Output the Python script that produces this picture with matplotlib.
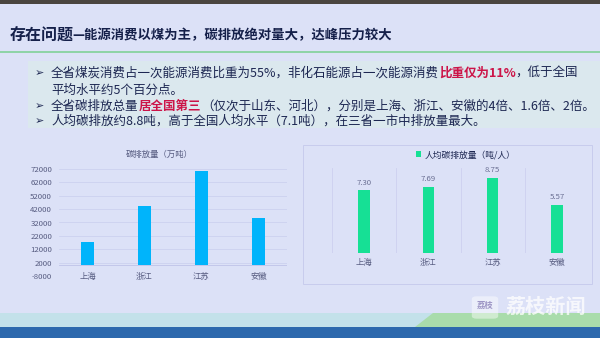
import matplotlib
matplotlib.use('Agg')
import matplotlib.pyplot as plt
from matplotlib.patches import Rectangle, Polygon, FancyBboxPatch

plt.rcParams['font.family'] = ['Noto Sans CJK SC', 'DejaVu Sans']

# data
regions = ['上海', '浙江', '江苏', '安徽']
total_emission = [17500, 44500, 70500, 35500]      # 万吨
per_capita = [7.30, 7.69, 8.75, 5.57]              # 吨/人
total_ticks = list(range(-8000, 72001, 10000))

title_main = '存在问题'
title_rest = '—能源消费以煤为主，碳排放绝对量大，达峰压力较大'
bullets = [
    [('全省煤炭消费占一次能源消费比重为55%，非化石能源占一次能源消费', None), ('比重仅为11%', 'hl'), ('，低于全国', None)],
    [('平均水平约5个百分点。', None)],
    [('全省碳排放总量', None), ('居全国第三', 'hl'), ('（仅次于山东、河北），分别是上海、浙江、安徽的4倍、1.6倍、2倍。', None)],
    [('人均碳排放约8.8吨，高于全国人均水平（7.1吨），在三省一市中排放量最大。', None)],
]

W, H = 600, 338
BG = '#dce1f7'
NAVY = '#1d2752'
GREY = '#565b80'
BLUE = '#00b4fb'
GREEN = '#16e095'
RED = '#cc1448'

fig = plt.figure(figsize=(6, 3.38), dpi=100, facecolor=BG)


def fx(px):
    return px / W


def fy(py):
    return 1 - py / H


def band(x0, y0, x1, y1, color, **kw):
    fig.patches.append(Rectangle((fx(x0), fy(y1)), fx(x1 - x0), (y1 - y0) / H,
                                 transform=fig.transFigure, facecolor=color,
                                 edgecolor='none', **kw))


# slide decoration
band(0, 0, W, 4, '#4a4540')
band(28, 61, W, 128, '#dbe8ee')
band(0, 51, W, 53, '#8fd3a8')
band(0, 313, W, 327, '#c3e1ea')
band(0, 327, W, H, '#2d69ad')
fig.patches.append(Polygon([(fx(415), fy(327)), (fx(433), fy(313)), (1, fy(313)), (1, fy(327))],
                           closed=True, transform=fig.transFigure,
                           facecolor='#a9dcab', edgecolor='none'))

renderer = fig.canvas.get_renderer()


def run_text(x, y, parts, size, color):
    # lay text runs side by side, each in its own colour/weight
    for s, style in parts:
        t = fig.text(fx(x), fy(y), s, fontsize=size, va='center',
                     color=RED if style == 'hl' else color,
                     fontweight='bold' if style in ('hl', 'b') else 'normal')
        bb = t.get_window_extent(renderer)
        x = bb.x1


run_text(10, 35, [(title_main, 'b')], 11.5, '#15204a')
run_text(72, 35.5, [(title_rest, 'b')], 9.6, '#15204a')

line_y = [73.5, 90.5, 106.5, 121]
for i, parts in enumerate(bullets):
    if i != 1:
        fig.text(fx(35), fy(line_y[i]), '➢', fontsize=8, va='center', color=NAVY,
                 family=['DejaVu Sans'])
    run_text(51, line_y[i], parts, 9.0, NAVY)

# left chart: total emissions
ax1 = fig.add_axes([fx(59), fy(276), fx(228), (276 - 169) / H])
ax1.set_facecolor('none')
x = range(len(regions))
ax1.bar(x, total_emission, width=0.22, color=BLUE)
ax1.set_xlim(-0.5, 3.5)
ax1.set_ylim(-8000, 72000)
ax1.set_yticks(total_ticks)
ax1.set_yticklabels([str(v) for v in total_ticks])
ax1.tick_params(axis='y', length=0, pad=5, labelsize=5.6, labelcolor=GREY)
ax1.set_xticks([])
for v in total_ticks[1:]:
    ax1.axhline(v, color='#c9cdee', lw=0.5, zorder=0)
ax1.axhline(0, color='#c3c7ea', lw=0.7, zorder=0)
for s in ax1.spines.values():
    s.set_visible(False)
for i, r in enumerate(regions):
    ax1.text(i, 0, r, transform=ax1.get_xaxis_transform(), ha='center', va='center',
             fontsize=6, color=GREY)
fig.text(fx(159), fy(154.5), '碳排放量（万吨）', ha='center', va='center', fontsize=6, color=GREY)

# right chart: per-capita emissions
fig.patches.append(Rectangle((fx(303), fy(284)), fx(289), (284 - 145) / H,
                             transform=fig.transFigure, facecolor='none',
                             edgecolor='#c8cced', lw=0.7))
ax2 = fig.add_axes([fx(332), fy(252.7), fx(257), (252.7 - 168) / H])
ax2.set_facecolor('none')
ax2.bar(x, per_capita, width=0.18, color=GREEN, label='人均碳排放量（吨/人）')
ax2.set_xlim(-0.5, 3.5)
ax2.set_ylim(0, 9.9)
for b in [-0.5, 0.5, 1.5, 2.5, 3.5]:
    ax2.axvline(b, color='#cdd0ef', lw=0.6, zorder=0)
ax2.axhline(0, color='#c3c7ea', lw=0.7, zorder=0)
for s in ax2.spines.values():
    s.set_visible(False)
ax2.set_yticks([])
ax2.set_xticks(list(x))
ax2.set_xticklabels(regions)
ax2.tick_params(axis='x', length=0, pad=4, labelsize=6, labelcolor=GREY)
for i, v in enumerate(per_capita):
    ax2.annotate(f'{v:.2f}', (i, v), xytext=(0, 5.5), textcoords='offset points',
                 ha='center', va='center', fontsize=5.6, color='#6a6f93')
ax2.legend(loc='center', bbox_to_anchor=(fx(466), fy(154.7)), bbox_transform=fig.transFigure,
           frameon=False, fontsize=6.3, handlelength=0.6, handleheight=0.6,
           handletextpad=0.4, labelcolor=NAVY)

# watermark
fig.patches.append(FancyBboxPatch((fx(473), fy(318)), fx(24), 21 / H,
                                  boxstyle='round,pad=0.002,rounding_size=0.008',
                                  transform=fig.transFigure, facecolor='white',
                                  edgecolor='none', alpha=0.45))
fig.text(fx(485), fy(305), '荔枝', ha='center', va='center', fontsize=6,
         color='#8a80b8', fontweight='bold', alpha=0.8)
fig.text(fx(505), fy(306), '荔枝新闻', ha='left', va='center', fontsize=14.5,
         color='white', alpha=0.75, fontweight='bold')

fig.savefig('out.png', dpi=100, facecolor=BG)
